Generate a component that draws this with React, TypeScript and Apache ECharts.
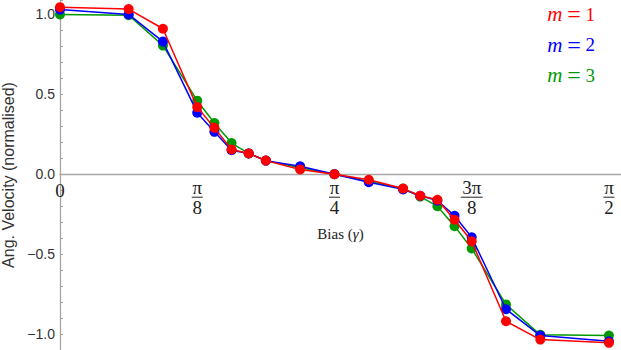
import React, { useEffect, useRef } from "react";
import * as echarts from "echarts";

// Bias values in units of π
const biasOverPi = [
  0, 0.0625, 0.09375, 0.125, 0.140625, 0.15625, 0.171875, 0.1875, 0.21875, 0.25,
  0.28125, 0.3125, 0.328125, 0.34375, 0.359375, 0.375, 0.40625, 0.4375, 0.5,
];
const m1 = [
  1.045, 1.033, 0.91, 0.42, 0.29, 0.155, 0.13, 0.085, 0.03, 0.0,
  -0.035, -0.09, -0.135, -0.16, -0.285, -0.42, -0.92, -1.035, -1.055,
];
const m2 = [
  1.03, 1.0, 0.83, 0.385, 0.265, 0.15, 0.13, 0.085, 0.05, 0.0,
  -0.05, -0.095, -0.135, -0.165, -0.26, -0.395, -0.845, -1.01, -1.045,
];
const m3 = [
  1.0, 0.995, 0.805, 0.46, 0.32, 0.195, 0.13, 0.085, 0.04, 0.0,
  -0.045, -0.09, -0.14, -0.2, -0.325, -0.465, -0.815, -1.005, -1.01,
];
const seriesNames = ["m = 1", "m = 2", "m = 3"];
const seriesColors = ["#ff0000", "#0000ff", "#009a00"];
const xTickValues = [0, 0.125, 0.25, 0.375, 0.5];
const xTickNum = ["0", "π", "π", "3π", "π"];
const xTickDen = ["", "8", "4", "8", "2"];
const yLabelValues = [-1, -0.5, 0, 0.5, 1];

const SERIF = "'Liberation Serif', 'DejaVu Serif', serif";
const SANS = "'Liberation Sans', Arial, sans-serif";

const Y_MIN = -1.1;
const Y_MAX = 1.09;
const H = 350;

export default function App() {
  const ref = useRef<HTMLDivElement>(null);
  useEffect(() => {
    if (!ref.current) return;
    const chart = echarts.init(ref.current, undefined, { renderer: "svg" });
    const values = [m1, m2, m3];
    const zeroFromBottom = (H * (0 - Y_MIN)) / (Y_MAX - Y_MIN);
    const mkSeries = (i: number) => ({
      name: seriesNames[i],
      type: "line",
      data: biasOverPi.map((x, j) => [x, values[i][j]]),
      symbol: "circle",
      symbolSize: 10,
      showSymbol: true,
      color: seriesColors[i],
      lineStyle: { width: 1.5, color: seriesColors[i] },
      itemStyle: { color: seriesColors[i] },
      z: 2 + (2 - i),
    });
    chart.setOption({
      animation: false,
      textStyle: { fontFamily: SANS },
      grid: {
        left: 60,
        right: 0,
        top: 0,
        bottom: 0,
        containLabel: false,
        outerBoundsMode: "none",
      },
      legend: {
        orient: "vertical",
        right: 26,
        top: 2,
        padding: 0,
        align: "left",
        itemWidth: 0,
        itemHeight: 20,
        itemGap: 6.5,
        selectedMode: false,
        data: seriesNames.map((n, i) => ({
          name: n,
          icon: "none",
          textStyle: { color: seriesColors[i] },
        })),
        formatter: (name: string) => `{i|m} {e|=} {t|${name.split("= ")[1]}}`,
        textStyle: {
          fontFamily: SERIF,
          fontSize: 19,
          lineHeight: 20,
          rich: {
            i: { fontStyle: "italic", fontFamily: SERIF, fontSize: 21 },
            e: { fontFamily: SERIF, fontSize: 24 },
            t: { fontFamily: SERIF, fontSize: 19 },
          },
        },
      },
      xAxis: {
        type: "value",
        min: 0,
        max: 0.511,
        interval: 0.125,
        offset: -zeroFromBottom,
        splitLine: { show: false },
        axisTick: { show: false },
        axisLine: { onZero: false, lineStyle: { color: "#a6a6a6", width: 1.3 } },
        name: "Bias ({g|γ})",
        nameLocation: "middle",
        nameGap: 52,
        nameTextStyle: {
          fontFamily: SERIF,
          fontSize: 15,
          color: "#222",
          rich: { g: { fontStyle: "italic", fontFamily: SERIF, fontSize: 15 } },
        },
        axisLabel: {
          interval: 0,
          margin: 5,
          color: "#222",
          fontFamily: SERIF,
          formatter: (v: number) => {
            const idx = xTickValues.findIndex((t) => Math.abs(t - v) < 1e-6);
            if (idx < 0) return "";
            if (!xTickDen[idx]) return `{z|${xTickNum[idx]}}`;
            const bar = xTickNum[idx].length > 1 ? "bw" : "b";
            return `{n|${xTickNum[idx]}}\n{${bar}| }\n{d|${xTickDen[idx]}}`;
          },
          rich: {
            z: { fontSize: 19, lineHeight: 18, fontFamily: SERIF, color: "#222", padding: [4, 0, 0, 0] },
            n: { fontSize: 19, lineHeight: 16, fontFamily: SERIF, color: "#222" },
            d: { fontSize: 19, lineHeight: 16, fontFamily: SERIF, color: "#222" },
            b: { fontSize: 1, width: 11, height: 1, lineHeight: 4, backgroundColor: "#222" },
            bw: { fontSize: 1, width: 22, height: 1, lineHeight: 4, backgroundColor: "#222" },
          },
        },
      },
      yAxis: {
        type: "value",
        min: Y_MIN,
        max: Y_MAX,
        interval: 0.1,
        splitLine: { show: false },
        axisLine: { onZero: false, lineStyle: { color: "#a6a6a6", width: 1.3 } },
        axisTick: { inside: true, length: 3, lineStyle: { color: "#a6a6a6" } },
        name: "Ang. Velocity (normalised)",
        nameLocation: "middle",
        nameGap: 41,
        nameTextStyle: { fontFamily: SANS, fontSize: 16, color: "#333" },
        axisLabel: {
          margin: 5,
          color: "#333",
          fontSize: 14,
          fontFamily: SANS,
          formatter: (v: number) => {
            const hit = yLabelValues.find((t) => Math.abs(t - v) < 1e-6);
            if (hit === undefined) return "";
            return hit.toFixed(1).replace("-", "\u2212");
          },
        },
      },
      series: [mkSeries(2), mkSeries(1), mkSeries(0)],
    });
    return () => chart.dispose();
  }, []);
  return (
    <div
      ref={ref}
      style={{ position: "absolute", left: 0, top: 0, width: 621, height: 350 }}
    />
  );
}
